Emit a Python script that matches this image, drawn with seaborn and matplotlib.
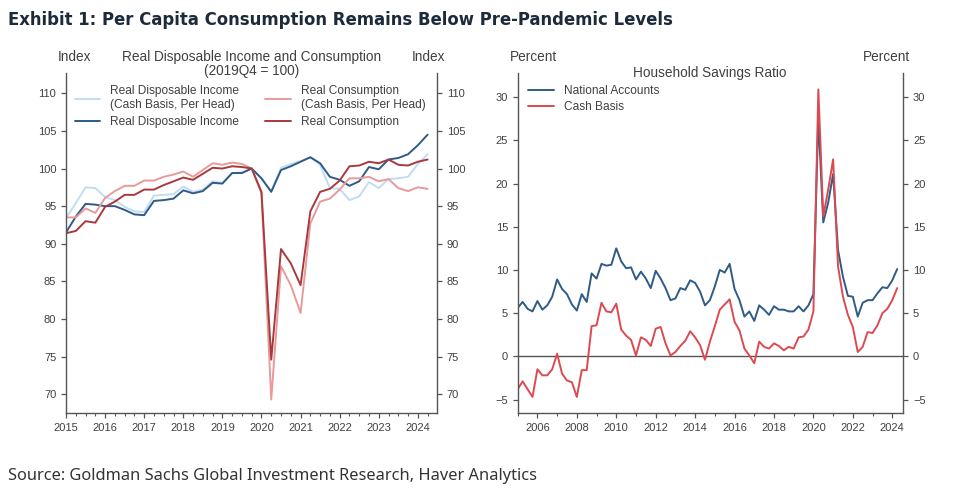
"""
Exhibit 1: real disposable income / consumption indices and household savings ratio.
Two panels side by side, values read off the Goldman Sachs chart.
"""
import numpy as np
import pandas as pd
import matplotlib
matplotlib.use("Agg")
import matplotlib.pyplot as plt
import seaborn as sns
from matplotlib.ticker import MultipleLocator

# Left panel: quarterly, 2015Q1 - 2024Q2, index 2019Q4 = 100
rdi_cash_head = [93.4, 95.4, 97.5, 97.4, 96.2, 95.8, 94.9, 94.3,
                 94.2, 96.4, 96.5, 96.6, 97.6, 96.9, 97.2, 98.3,
                 98.1, 99.4, 99.5, 100.0, 98.6, 97.0, 100.1, 100.6,
                 101.0, 101.5, 100.5, 97.4, 97.3, 95.8, 96.3, 98.2,
                 97.4, 98.6, 98.7, 98.9, 100.6, 101.9]
rdi = [91.5, 93.6, 95.3, 95.2, 95.0, 95.0, 94.5, 93.9,
       93.8, 95.7, 95.8, 96.0, 97.1, 96.7, 97.0, 98.1,
       98.0, 99.4, 99.4, 100.0, 98.7, 96.9, 99.8, 100.3,
       100.9, 101.5, 100.7, 98.9, 98.5, 97.7, 98.3, 100.2,
       99.9, 101.2, 101.4, 101.9, 103.1, 104.5]
rc_cash_head = [93.5, 93.5, 94.7, 94.1, 96.1, 97.0, 97.7, 97.7,
                98.4, 98.4, 98.9, 99.2, 99.6, 98.9, 99.8, 100.7,
                100.5, 100.8, 100.6, 100.0, 96.7, 69.3, 87.0, 84.5,
                80.8, 92.7, 95.6, 96.0, 97.2, 98.7, 98.7, 98.9,
                98.3, 98.6, 97.4, 97.0, 97.5, 97.3]
rc = [91.4, 91.7, 93.0, 92.8, 94.9, 95.6, 96.5, 96.5,
      97.2, 97.2, 97.8, 98.3, 98.8, 98.5, 99.3, 100.1,
      100.0, 100.3, 100.2, 100.0, 96.9, 74.6, 89.3, 87.4,
      84.5, 94.3, 96.9, 97.3, 98.4, 100.3, 100.4, 100.9,
      100.7, 101.2, 100.5, 100.4, 100.9, 101.2]

# Right panel: quarterly, 2005Q1 - 2024Q2, percent
sav_national = [5.6, 6.3, 5.5, 5.2, 6.4, 5.4, 5.9, 6.9, 8.9, 7.8,
                7.2, 6.0, 5.3, 7.2, 6.3, 9.6, 9.0, 10.7, 10.5, 10.6,
                12.5, 11.0, 10.2, 10.3, 8.9, 9.8, 9.0, 7.9, 9.9, 9.0,
                7.9, 6.5, 6.7, 7.9, 7.7, 8.8, 8.5, 7.5, 5.9, 6.5,
                8.1, 10.0, 9.7, 10.7, 7.8, 6.5, 4.6, 5.2, 4.1, 5.9,
                5.4, 4.8, 5.8, 5.4, 5.4, 5.2, 5.2, 5.8, 5.2, 5.9,
                7.2, 27.6, 15.5, 17.8, 21.1, 12.3, 9.2, 7.0, 6.9, 4.6,
                6.2, 6.5, 6.5, 7.3, 8.0, 7.9, 8.8, 10.1]
sav_cash = [-3.8, -2.9, -3.8, -4.7, -1.5, -2.2, -2.2, -1.5, 0.3, -2.0,
            -2.8, -3.0, -4.7, -1.6, -1.6, 3.5, 3.6, 6.2, 5.2, 5.1,
            6.1, 3.1, 2.4, 1.9, 0.1, 2.2, 1.9, 1.2, 3.2, 3.4,
            1.5, 0.1, 0.5, 1.2, 1.8, 2.9, 2.2, 1.3, -0.4, 1.7,
            3.5, 5.4, 6.0, 6.6, 4.0, 3.0, 0.9, 0.1, -0.8, 1.7,
            1.1, 0.9, 1.5, 1.2, 0.7, 1.1, 0.9, 2.2, 2.3, 3.1,
            5.2, 30.9, 16.2, 19.3, 22.8, 10.4, 6.9, 4.8, 3.4, 0.5,
            1.1, 2.8, 2.7, 3.6, 5.0, 5.5, 6.5, 7.9]

left_ticks = list(range(2015, 2025))
right_ticks = list(range(2006, 2025, 2))

TEXT = '#404040'
DARK_BLUE = '#2f5b86'
LIGHT_BLUE = '#c2dcf2'
DARK_RED = '#a8393d'
LIGHT_RED = '#e89a9b'
RED = '#dc4a50'

sns.set_style("ticks")
plt.rcParams['font.family'] = ['Liberation Sans', 'DejaVu Sans']


def style_axes(ax):
    """Spines left/right/bottom, ticks mirrored on the right."""
    ax.spines['top'].set_visible(False)
    for s in ['left', 'right', 'bottom']:
        ax.spines[s].set_visible(True)
        ax.spines[s].set_color('#555555')
        ax.spines[s].set_linewidth(1.0)
    ax.tick_params(axis='both', which='major', direction='out', length=3.5,
                   width=0.9, color='#555555', labelsize=8, labelcolor=TEXT)
    ax.tick_params(axis='x', which='minor', direction='out', length=2.2,
                   width=0.8, color='#555555')
    ax.tick_params(axis='y', left=True, right=True, labelleft=True, labelright=True)
    ax.set_xlabel('')
    ax.set_ylabel('')


fig = plt.figure(figsize=(9.6, 4.93), dpi=100)
ax1 = fig.add_axes([66 / 960, 1 - 413 / 493, 371 / 960, 340 / 493])
ax2 = fig.add_axes([517.7 / 960, 1 - 413 / 493, 385.6 / 960, 340 / 493])

# ---- left panel
df_l = pd.DataFrame({
    'date': 2015 + np.arange(len(rdi)) / 4,
    'rdi_cash_head': rdi_cash_head,
    'rdi': rdi,
    'rc_cash_head': rc_cash_head,
    'rc': rc,
})
series_l = [
    ('rdi_cash_head', 'Real Disposable Income\n(Cash Basis, Per Head)', LIGHT_BLUE),
    ('rdi', 'Real Disposable Income', DARK_BLUE),
    ('rc_cash_head', 'Real Consumption\n(Cash Basis, Per Head)', LIGHT_RED),
    ('rc', 'Real Consumption', DARK_RED),
]
for col, lab, c in series_l:
    sns.lineplot(data=df_l, x='date', y=col, ax=ax1, color=c, lw=1.4, label=lab)

ax1.set_xlim(2015, 2024.49)
ax1.set_ylim(67.5, 112.7)
ax1.set_xticks(left_ticks)
ax1.set_xticklabels([str(y) for y in left_ticks])
ax1.xaxis.set_minor_locator(MultipleLocator(0.25))
ax1.yaxis.set_major_locator(MultipleLocator(5))
style_axes(ax1)
h, l = ax1.get_legend_handles_labels()
ax1.legend(h, l, ncol=2, loc='upper left', bbox_to_anchor=(0.0, 0.99),
           frameon=False, fontsize=8.6, labelcolor=TEXT, handlelength=2.1,
           handletextpad=0.85, columnspacing=2.2, labelspacing=0.4,
           borderaxespad=0.35)
ax1.text(0.5, 0.985, 'Real Disposable Income and Consumption\n(2019Q4 = 100)',
         transform=ax1.transAxes, ha='center', va='bottom', fontsize=9.8,
         color=TEXT, linespacing=1.0)
ax1.text(0.024, 1.047, 'Index', transform=ax1.transAxes, ha='center',
         va='center', fontsize=9.8, color=TEXT)
ax1.text(0.976, 1.047, 'Index', transform=ax1.transAxes, ha='center',
         va='center', fontsize=9.8, color=TEXT)

# ---- right panel
df_r = pd.DataFrame({
    'date': 2005 + np.arange(len(sav_national)) / 4,
    'National Accounts': sav_national,
    'Cash Basis': sav_cash,
})
ax2.axhline(0, color='#555555', lw=1.0, zorder=1)
sns.lineplot(data=df_r, x='date', y='National Accounts', ax=ax2,
             color=DARK_BLUE, lw=1.4, label='National Accounts')
sns.lineplot(data=df_r, x='date', y='Cash Basis', ax=ax2,
             color=RED, lw=1.4, label='Cash Basis')
ax2.set_xlim(2005, 2024.56)
ax2.set_ylim(-6.56, 32.8)
ax2.set_xticks(right_ticks)
ax2.set_xticklabels([str(y) for y in right_ticks])
ax2.xaxis.set_minor_locator(MultipleLocator(1))
ax2.yaxis.set_major_locator(MultipleLocator(5))
style_axes(ax2)
ax2.legend(loc='upper left', bbox_to_anchor=(0.0, 0.995), frameon=False,
           fontsize=8.6, labelcolor=TEXT, handlelength=2.1,
           handletextpad=0.85, labelspacing=0.3, borderaxespad=0.5)
ax2.text(0.499, 1.0, 'Household Savings Ratio', transform=ax2.transAxes,
         ha='center', va='center', fontsize=9.8, color=TEXT)
ax2.text(0.041, 1.047, 'Percent', transform=ax2.transAxes, ha='center',
         va='center', fontsize=9.8, color=TEXT)
ax2.text(0.957, 1.047, 'Percent', transform=ax2.transAxes, ha='center',
         va='center', fontsize=9.8, color=TEXT)

# ---- header / footer
fig.text(8 / 960, 1 - 20 / 493,
         'Exhibit 1: Per Capita Consumption Remains Below Pre-Pandemic Levels',
         ha='left', va='center', fontsize=11.9, fontweight='bold',
         color='#1d2a3a', family=['DejaVu Sans'])
fig.text(8 / 960, 1 - 476 / 493,
         'Source: Goldman Sachs Global Investment Research, Haver Analytics',
         ha='left', va='center', fontsize=11.8, color='#333333',
         family=['Noto Sans', 'DejaVu Sans'])

fig.savefig('out.png', dpi=100)
plt.close(fig)
